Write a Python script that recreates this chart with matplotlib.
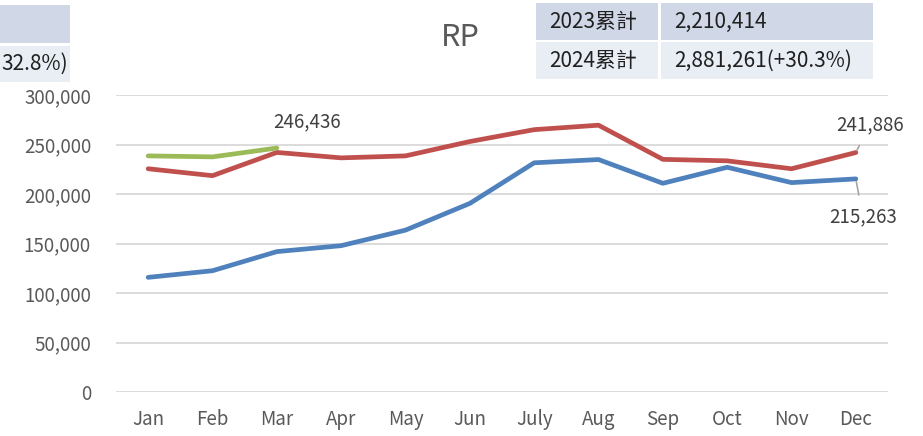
#!/usr/bin/env python3

import matplotlib.pyplot as plt
from matplotlib.patches import Rectangle
from matplotlib.ticker import FuncFormatter

plt.rcParams['font.family'] = ['Noto Sans CJK TC', 'DejaVu Sans']

#####
##### Data
#####

MONTHS = ["Jan", "Feb", "Mar", "Apr", "May", "Jun",
          "July", "Aug", "Sep", "Oct", "Nov", "Dec"]

RP_2023 = [115800, 122500, 141800, 147800, 163500, 190500,
           231500, 234800, 210800, 227000, 211500, 215263]
RP_2024 = [225500, 218500, 242000, 236500, 238500, 253000,
           265000, 269500, 235000, 233500, 225500, 241886]
RP_2025 = [238500, 237500, 246436]

TABLE_ROWS = [("2023累計", "2,210,414"),
              ("2024累計", "2,881,261(+30.3%)")]
LEFT_TABLE_TEXT = "32.8%)"

TITLE = "RP"

COLOR_2023 = "#4F81BD"
COLOR_2024 = "#C0504D"
COLOR_2025 = "#9BBB59"
COLOR_TEXT = "#595959"
COLOR_ROW_DARK = "#D0D8E8"
COLOR_ROW_LIGHT = "#E9EDF4"

FONT_TICK = 13.5
FONT_TABLE = 15

W, H = 923, 436


def px(x, y):
    ### pixel (from top-left) -> figure fraction
    return x / W, 1 - y / H


fig = plt.figure(figsize=(W / 100, H / 100), dpi=100)
ax = fig.add_axes([116 / W, 1 - 392 / H, (888 - 116) / W, (392 - 95) / H])

xs = list(range(len(MONTHS)))
ax.plot(xs, RP_2023, color=COLOR_2023, lw=3.4, solid_capstyle='round')
ax.plot(xs, RP_2024, color=COLOR_2024, lw=3.4, solid_capstyle='round')
ax.plot(xs[:len(RP_2025)], RP_2025, color=COLOR_2025, lw=3.4, solid_capstyle='round')

ax.set_xlim(-0.5, len(MONTHS) - 0.5)
ax.set_ylim(0, 300000)
ax.set_yticks(range(0, 300001, 50000))
ax.set_xticks(xs)
ax.set_xticklabels(MONTHS)
ax.yaxis.set_major_formatter(FuncFormatter(lambda v, p: "{:,}".format(int(v))))
ax.tick_params(axis='both', length=0, labelsize=FONT_TICK, colors=COLOR_TEXT)
ax.tick_params(axis='y', pad=18)
ax.tick_params(axis='x', pad=12)

ax.grid(axis='y', color="#D9D9D9", lw=1.3)
ax.set_axisbelow(True)
for s in ax.spines.values():
    s.set_visible(False)

### Data labels (offsets in points)
lbl = dict(fontsize=FONT_TICK, color="#404040", ha='center', va='center')
ax.annotate("{:,}".format(RP_2025[-1]), xy=(2, RP_2025[-1]),
            xytext=(22, 19), textcoords="offset points", **lbl)
ax.annotate("{:,}".format(RP_2024[-1]), xy=(11, RP_2024[-1]),
            xytext=(10, 20), textcoords="offset points",
            arrowprops=dict(arrowstyle='-', color="#A6A6A6", lw=1.2,
                            shrinkA=6, shrinkB=2), **lbl)
ax.annotate("{:,}".format(RP_2023[-1]), xy=(11, RP_2023[-1]),
            xytext=(5, -27), textcoords="offset points",
            arrowprops=dict(arrowstyle='-', color="#A6A6A6", lw=1.2,
                            shrinkA=6, shrinkB=2), **lbl)

### Title
fig.text(*px(460, 38), TITLE, fontsize=22, color=COLOR_TEXT, ha='center', va='center')

### Right summary table
row_tops = [3, 42]
for (name, val), top, col in zip(TABLE_ROWS, row_tops, [COLOR_ROW_DARK, COLOR_ROW_LIGHT]):
    for x0, x1 in [(536, 658), (661, 873)]:
        x, y = px(x0, top + 37)
        fig.add_artist(Rectangle((x, y), (x1 - x0) / W, 37 / H,
                                 transform=fig.transFigure, color=col, lw=0))
    fig.text(*px(549, top + 19), name, fontsize=FONT_TABLE, color="#202020", va='center')
    fig.text(*px(674, top + 19), val, fontsize=FONT_TABLE, color="#202020", va='center')

### Left summary table (cut off at figure edge in the original)
for top, h, col in [(5, 38, COLOR_ROW_DARK), (46, 36, COLOR_ROW_LIGHT)]:
    x, y = px(0, top + h)
    fig.add_artist(Rectangle((x, y), 70 / W, h / H,
                             transform=fig.transFigure, color=col, lw=0))
fig.text(*px(1, 64), LEFT_TABLE_TEXT, fontsize=FONT_TABLE, color="#202020",
         ha='left', va='center')

fig.savefig("out.png", dpi=100)
